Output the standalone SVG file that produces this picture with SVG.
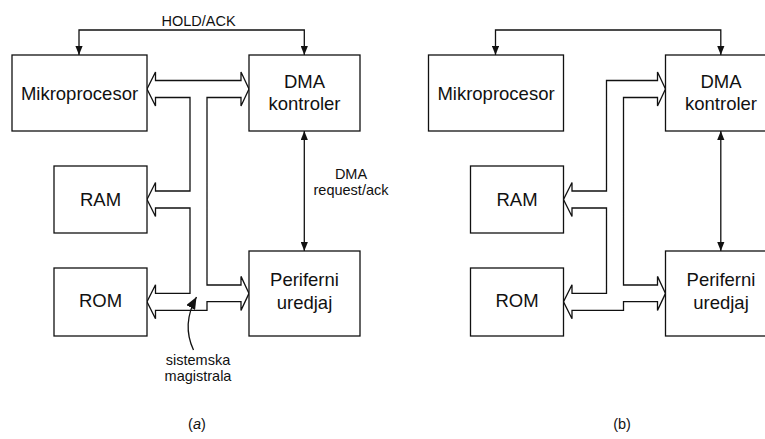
<svg xmlns="http://www.w3.org/2000/svg" width="765" height="439" viewBox="0 0 765 439">
  <defs>
    <style>
      .box { fill: #fff; stroke: #111; stroke-width: 1.3; }
      .bus { fill: #fff; stroke: #111; stroke-width: 1.3; stroke-linejoin: miter; }
      .wire { fill: none; stroke: #111; stroke-width: 1.3; }
      .lbl { font-family: "Liberation Sans", Arial, sans-serif; font-size: 18.5px; fill: #111; text-anchor: middle; }
      .small { font-family: "Liberation Sans", Arial, sans-serif; font-size: 14.5px; fill: #111; text-anchor: middle; }
    </style>
    <marker id="head" viewBox="0 0 10 8" refX="10" refY="4" markerWidth="9" markerHeight="7.5" markerUnits="userSpaceOnUse" orient="auto-start-reverse">
      <path d="M0,0 L10,4 L0,8 Z" fill="#111"/>
    </marker>
    <marker id="pointer" viewBox="0 0 12 10" refX="12" refY="5" markerWidth="12" markerHeight="10" markerUnits="userSpaceOnUse" orient="auto">
      <path d="M0,0 L12,5 L0,10 Z" fill="#111"/>
    </marker>
  </defs>

  <!-- (a) system bus shared by processor and DMA controller -->
  <g id="connectors-a">
    <path class="wire" d="M79,55 L79,30 L304.3,30 L304.3,55" marker-start="url(#head)" marker-end="url(#head)"/>
    <path class="wire" d="M304.3,131 L304.3,251" marker-start="url(#head)" marker-end="url(#head)"/>
    <path class="bus" d="M155.5,80.5 L241,80.5 L241,72 L249,89 L241,106 L241,97.5 L207,97.5 L207,285 L241,285 L241,276.4 L249,293.4 L241,310.4 L241,301.7 L207,301.7 L207,310.3 L155.5,310.3 L155.5,318.8 L147,301.8 L155.5,284.8 L155.5,293.3 L190,293.3 L190,208 L155.5,208 L155.5,216.5 L147,199.5 L155.5,182.5 L155.5,191 L190,191 L190,97.5 L155.5,97.5 L155.5,106 L147,89 L155.5,72 Z"/>
    <path class="wire" d="M193.5,350 C186,334 186,316 196.5,297" marker-end="url(#pointer)"/>
  </g>
  <text class="small" x="198.5" y="26">HOLD/ACK</text>
  <text class="small" x="351" y="178.5">DMA</text>
  <text class="small" x="351" y="195">request/ack</text>
  <text class="small" x="198" y="365">sistemska</text>
  <text class="small" x="198" y="381">magistrala</text>
  <text class="small" x="197" y="429">(<tspan font-style="italic">a</tspan>)</text>

  <g id="mikroprocesor-a">
    <rect class="box" x="12" y="55" width="135" height="76"/>
    <text class="lbl" x="79.5" y="99.5">Mikroprocesor</text>
  </g>
  <g id="dma-a">
    <rect class="box" x="249" y="55" width="111" height="76"/>
    <text class="lbl" x="304.5" y="88">DMA</text>
    <text class="lbl" x="304.5" y="110">kontroler</text>
  </g>
  <g id="ram-a">
    <rect class="box" x="54" y="166" width="93" height="67"/>
    <text class="lbl" x="100.5" y="205.5">RAM</text>
  </g>
  <g id="rom-a">
    <rect class="box" x="54" y="268" width="93" height="68"/>
    <text class="lbl" x="100.5" y="307">ROM</text>
  </g>
  <g id="periferni-a">
    <rect class="box" x="249" y="251" width="111" height="85"/>
    <text class="lbl" x="304.5" y="286">Periferni</text>
    <text class="lbl" x="304.5" y="309">uredjaj</text>
  </g>

  <!-- (b) bus handed over to the DMA controller -->
  <g id="connectors-b">
    <path class="wire" d="M495.5,55 L495.5,30 L720.8,30 L720.8,55" marker-start="url(#head)" marker-end="url(#head)"/>
    <path class="wire" d="M720.8,131 L720.8,251" marker-start="url(#head)" marker-end="url(#head)"/>
    <path class="bus" d="M657.5,80.5 L606.5,80.5 L606.5,191 L572,191 L572,182.5 L563.5,199.5 L572,216.5 L572,208 L606.5,208 L606.5,293.3 L572,293.3 L572,284.8 L563.5,301.8 L572,318.8 L572,310.3 L623.5,310.3 L623.5,301.7 L657.5,301.7 L657.5,310.4 L665.5,293.4 L657.5,276.4 L657.5,285 L623.5,285 L623.5,97.5 L657.5,97.5 L657.5,106 L665.5,89 L657.5,72 Z"/>
  </g>
  <text class="small" x="622" y="429">(b)</text>

  <g id="mikroprocesor-b">
    <rect class="box" x="428.5" y="55" width="135" height="76"/>
    <text class="lbl" x="496" y="99.5">Mikroprocesor</text>
  </g>
  <g id="dma-b">
    <rect class="box" x="665.5" y="55" width="111" height="76"/>
    <text class="lbl" x="721" y="88">DMA</text>
    <text class="lbl" x="721" y="110">kontroler</text>
  </g>
  <g id="ram-b">
    <rect class="box" x="470.5" y="166" width="93" height="67"/>
    <text class="lbl" x="517" y="205.5">RAM</text>
  </g>
  <g id="rom-b">
    <rect class="box" x="470.5" y="268" width="93" height="68"/>
    <text class="lbl" x="517" y="307">ROM</text>
  </g>
  <g id="periferni-b">
    <rect class="box" x="665.5" y="251" width="111" height="85"/>
    <text class="lbl" x="721" y="286">Periferni</text>
    <text class="lbl" x="721" y="309">uredjaj</text>
  </g>
</svg>
